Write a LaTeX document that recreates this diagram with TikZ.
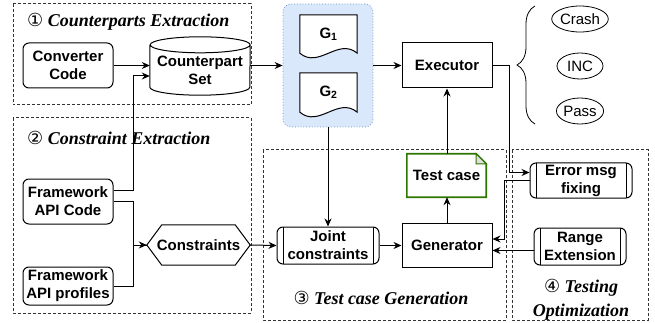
\documentclass[tikz,border=0pt]{standalone}
\usepackage{fontspec}
\setmainfont{Liberation Serif}
\setsansfont{Liberation Sans}
\newfontfamily\circfont{DejaVu Sans}
\usetikzlibrary{arrows.meta,decorations.pathreplacing,shapes.geometric}

\definecolor{grpfill}{HTML}{DAE8FC}
\definecolor{grpline}{HTML}{6C8EBF}
\definecolor{tcgreen}{HTML}{2D7600}

\tikzset{
  lbl/.style={font=\sffamily\bfseries\fontsize{15}{18}\selectfont, align=center, inner sep=1pt},
  rbox/.style={lbl, draw, line width=1pt, rounded corners=6pt},
  block/.style={lbl, draw, line width=1pt},
  procbox/.style={rbox, path picture={
      \draw[line width=1pt] ([xshift=6pt]path picture bounding box.north west) -- ([xshift=6pt]path picture bounding box.south west);
      \draw[line width=1pt] ([xshift=-6pt]path picture bounding box.north east) -- ([xshift=-6pt]path picture bounding box.south east);}},
  outc/.style={draw, ellipse, line width=0.8pt, minimum width=46pt, minimum height=26pt, inner sep=0pt,
    font=\sffamily\fontsize{15}{18}\selectfont},
  ttl/.style={font=\rmfamily\bfseries\itshape\fontsize{18}{24}\selectfont, align=center, inner sep=0pt},
  zone/.style={draw=black!80, line width=1pt, dash pattern=on 3pt off 2pt},
  arr/.style={-{Stealth[length=8pt,width=7pt]}, line width=1pt},
  ln/.style={line width=1pt}
}

\newcommand{\circnum}[1]{{\circfont\mdseries\upshape #1}}

\begin{document}
\begin{tikzpicture}[x=1pt, y=-1pt]
  \useasboundingbox (0,0) rectangle (655,323);

  \draw[zone] (13,4) rectangle (251,105);
  \draw[zone] (13,118) rectangle (251,313);
  \draw[zone] (263,150) rectangle (506,320);
  \draw[zone] (512,150) rectangle (648,320);

  \node[ttl, anchor=west] (t1) at (27,22) {\circnum{①} Counterparts Extraction};
  \node[ttl, anchor=west] (t2) at (27,138) {\circnum{②} Constraint Extraction};
  \node[ttl] (t3) at (381,298) {\circnum{③} Test case Generation};
  \node[ttl] (t4) at (581,300) {\circnum{④} Testing\\Optimization};

  \node[rbox, minimum width=90pt, minimum height=45pt] (cc) at (68,65.5) {Converter\\Code};
  \node[lbl, minimum width=100pt, minimum height=50pt] (cs) at (200,70) {Counterpart\\Set};
  \draw[ln] (cs.north west) -- ([yshift=8pt]cs.south west)
    arc[start angle=180, end angle=360, x radius=50pt, y radius=8pt] -- (cs.north east)
    arc[start angle=0, end angle=180, x radius=50pt, y radius=8pt]
    arc[start angle=180, end angle=360, x radius=50pt, y radius=8pt];

  \node[rbox, minimum width=90pt, minimum height=45pt] (fac) at (68,201.5) {Framework\\API Code};
  \node[rbox, minimum width=90pt, minimum height=38pt] (fap) at (68,286) {Framework\\API profiles};
  \node[lbl, minimum width=103pt, minimum height=40pt] (con) at (198.5,245) {Constraints};
  \draw[ln] ([xshift=15pt]con.north west) -- ([xshift=-15pt]con.north east) -- (con.east)
    -- ([xshift=-15pt]con.south east) -- ([xshift=15pt]con.south west) -- (con.west) -- cycle;

  \node[draw=grpline, fill=grpfill, dotted, line width=0.8pt, rounded corners=8pt,
    minimum width=90pt, minimum height=123pt] (grp) at (328,65.5) {};
  \node[lbl, minimum width=57pt, minimum height=38pt] (g1) at (328.5,34) {G\textsubscript{1}};
  \node[lbl, minimum width=57pt, minimum height=39pt] (g2) at (328.5,92.5) {G\textsubscript{2}};
  \foreach \g in {g1,g2}
    \draw[ln, fill=white] (\g.north west) -- (\g.north east) -- (\g.south east)
      .. controls ([xshift=-19pt,yshift=16pt]\g.south east) and ([xshift=19pt,yshift=-16pt]\g.south west) .. (\g.south west) -- cycle;
  \node[lbl] at (g1) {G\textsubscript{1}};
  \node[lbl] at (g2) {G\textsubscript{2}};

  \node[block, minimum width=90pt, minimum height=45pt] (exe) at (447,65.5) {Executor};
  \node[procbox, minimum width=102pt, minimum height=37pt] (jc) at (328,245.5) {Joint\\constraints};
  \node[block, minimum width=90pt, minimum height=44pt] (gen) at (447,245) {Generator};

  \node[lbl, minimum width=79pt, minimum height=43pt] (tc) at (446.5,175.5) {Test case};
  \draw[tcgreen, line width=1.6pt] (tc.north west) -- ([xshift=-10pt]tc.north east) -- ([yshift=-10pt]tc.north east)
    -- (tc.south east) -- (tc.south west) -- cycle;
  \filldraw[tcgreen, fill=black!12, line width=1pt] ([xshift=-10pt]tc.north east) -- ([xshift=-10pt,yshift=-10pt]tc.north east)
    -- ([yshift=-10pt]tc.north east) -- cycle;

  \node[procbox, minimum width=102pt, minimum height=35pt] (err) at (581,180.5) {Error msg\\fixing};
  \node[procbox, minimum width=92pt, minimum height=37pt] (rng) at (580,246.5) {Range\\Extension};

  \node[outc] (crash) at (580,19) {Crash};
  \node[outc] (inc) at (580,66) {INC};
  \node[outc] (pass) at (580,111) {Pass};
  \coordinate (bb) at (535,124);
  \coordinate (bt) at (535,6);
  \draw[line width=0.8pt, decorate, decoration={brace, amplitude=18pt, aspect=0.5}] (bb) -- (bt);

  \draw[arr] (cc.east) -- (cc.east -| cs.west);
  \draw[arr] ([yshift=11pt]fac.east) -- ++(20,0) |- ([yshift=-6pt]cs.west);
  \draw[ln] (fac.east) -- ++(20,0) |- (con.west);
  \draw[arr] (fap.east) -- ++(20,0) |- (con.west);
  \draw[arr] (cs.east |- grp.west) -- (grp.west);
  \draw[arr] (grp.east) -- (exe.west);
  \draw[arr] (grp.south) -- (jc.north);
  \draw[arr] (con.east) -- (jc.west);
  \draw[arr] (jc.east) -- (jc.east -| gen.west);
  \draw[arr] (gen.north) -- (gen.north |- tc.south);
  \draw[arr] (exe.south |- tc.north) -- (exe.south);
  \draw[arr] (exe.east) -- ++(17,0) |- ([yshift=8pt]err.west);
  \draw[arr] (err.west) -- ++(-25,0) |- ([yshift=6pt]gen.east);
  \draw[arr] ([yshift=-4pt]rng.west) -- ([yshift=-4pt]rng.west -| gen.east);
\end{tikzpicture}
\end{document}
